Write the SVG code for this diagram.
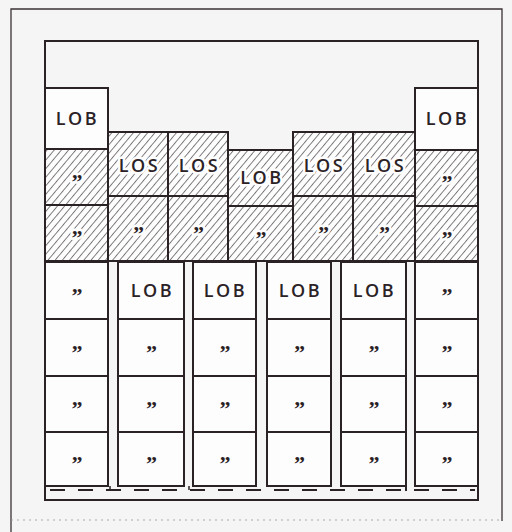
<svg xmlns="http://www.w3.org/2000/svg" width="512" height="532" viewBox="0 0 512 532">
  <defs>
    <pattern id="hatch" patternUnits="userSpaceOnUse" width="5.5" height="10" patternTransform="rotate(40)">
      <rect width="5.5" height="10" fill="#fdfdfd"/>
      <line x1="0.5" y1="0" x2="0.5" y2="10" stroke="#5a5458" stroke-width="0.8"/>
    </pattern>
    <style>
      .cell { stroke: #2b2226; stroke-width: 2; fill: #fdfdfd; }
      .hcell { stroke: #2b2226; stroke-width: 2; fill: url(#hatch); }
      .lbl { font-family: "Open Sans", "Liberation Sans", sans-serif; font-weight: 600; font-size: 18px; letter-spacing: 2.5px; fill: #2b2226; text-anchor: middle; }
      .dit { font-family: "Liberation Serif", "DejaVu Serif", serif; font-weight: 700; font-size: 22px; fill: #2b2226; text-anchor: middle; }
      .halo { stroke: #fdfdfd; stroke-width: 5; stroke-linejoin: round; paint-order: stroke; }
      .frame { stroke: #2b2226; stroke-width: 2; fill: none; }
      .outer { stroke: #3a3236; stroke-width: 1.3; fill: none; }
    </style>
  </defs>
  <rect width="512" height="532" fill="#f5f5f5"/>

  <g id="outer-frame">
    <polyline class="outer" points="11,532 11,9 502,9 502,521"/>
    <line x1="11" y1="520" x2="502" y2="520" stroke="#9a9496" stroke-width="0.8" stroke-dasharray="2 4"/>
  </g>

  <g id="inner-frame">
    <rect x="45" y="41" width="433" height="459" fill="#f8f8f8" class="frame"/>
  </g>

  <!-- top section -->
  <g id="colA">
    <g id="A1"><rect class="cell" x="45" y="88" width="63" height="61"/><text class="lbl" x="77.5" y="124.5">LOB</text></g>
    <g id="A2"><rect class="hcell" x="45" y="149" width="63" height="56"/><text class="dit halo" x="77" y="189">”</text></g>
    <g id="A3"><rect class="hcell" x="45" y="205" width="63" height="56"/><text class="dit halo" x="77" y="245">”</text></g>
  </g>
  <g id="colB">
    <g id="B1"><rect class="hcell" x="108" y="132" width="60" height="64"/><text class="lbl halo" x="139.5" y="171.5">LOS</text></g>
    <g id="B2"><rect class="hcell" x="108" y="196" width="60" height="65"/><text class="dit halo" x="138.5" y="240.5">”</text></g>
  </g>
  <g id="colC">
    <g id="C1"><rect class="hcell" x="168" y="132" width="60" height="64"/><text class="lbl halo" x="199.5" y="171.5">LOS</text></g>
    <g id="C2"><rect class="hcell" x="168" y="196" width="60" height="65"/><text class="dit halo" x="198.5" y="240.5">”</text></g>
  </g>
  <g id="colD">
    <g id="D1"><rect class="hcell" x="228" y="150" width="65" height="56"/><text class="lbl halo" x="262" y="183.5">LOB</text></g>
    <g id="D2"><rect class="hcell" x="228" y="206" width="65" height="55"/><text class="dit halo" x="261" y="245.5">”</text></g>
  </g>
  <g id="colE">
    <g id="E1"><rect class="hcell" x="293" y="132" width="60" height="64"/><text class="lbl halo" x="324.5" y="171.5">LOS</text></g>
    <g id="E2"><rect class="hcell" x="293" y="196" width="60" height="65"/><text class="dit halo" x="323.5" y="240.5">”</text></g>
  </g>
  <g id="colF">
    <g id="F1"><rect class="hcell" x="353" y="132" width="62" height="64"/><text class="lbl halo" x="385.5" y="171.5">LOS</text></g>
    <g id="F2"><rect class="hcell" x="353" y="196" width="62" height="65"/><text class="dit halo" x="384.5" y="240.5">”</text></g>
  </g>
  <g id="colG">
    <g id="G1"><rect class="cell" x="415" y="88" width="63" height="62"/><text class="lbl" x="447.5" y="124.5">LOB</text></g>
    <g id="G2"><rect class="hcell" x="415" y="150" width="63" height="56"/><text class="dit halo" x="447" y="190">”</text></g>
    <g id="G3"><rect class="hcell" x="415" y="206" width="63" height="55"/><text class="dit halo" x="447" y="245.5">”</text></g>
  </g>

  <!-- lower section -->
  <g id="col1">
    <rect class="cell" x="45" y="262" width="63" height="224"/>
    <line class="frame" x1="45" y1="319" x2="108" y2="319"/><line class="frame" x1="45" y1="376" x2="108" y2="376"/><line class="frame" x1="45" y1="432" x2="108" y2="432"/>
    <text class="dit" x="77" y="302.5">”</text><text class="dit" x="77" y="359.5">”</text><text class="dit" x="77" y="416">”</text><text class="dit" x="77" y="471">”</text>
  </g>
  <g id="col2">
    <rect class="cell" x="118" y="262" width="66" height="224"/>
    <line class="frame" x1="118" y1="319" x2="184" y2="319"/><line class="frame" x1="118" y1="376" x2="184" y2="376"/><line class="frame" x1="118" y1="432" x2="184" y2="432"/>
    <text class="lbl" x="152.5" y="297">LOB</text><text class="dit" x="151.5" y="359.5">”</text><text class="dit" x="151.5" y="416">”</text><text class="dit" x="151.5" y="471">”</text>
  </g>
  <g id="col3">
    <rect class="cell" x="193" y="262" width="63" height="224"/>
    <line class="frame" x1="193" y1="319" x2="256" y2="319"/><line class="frame" x1="193" y1="376" x2="256" y2="376"/><line class="frame" x1="193" y1="432" x2="256" y2="432"/>
    <text class="lbl" x="225.5" y="297">LOB</text><text class="dit" x="225" y="359.5">”</text><text class="dit" x="225" y="416">”</text><text class="dit" x="225" y="471">”</text>
  </g>
  <g id="col4">
    <rect class="cell" x="267" y="262" width="64" height="224"/>
    <line class="frame" x1="267" y1="319" x2="331" y2="319"/><line class="frame" x1="267" y1="376" x2="331" y2="376"/><line class="frame" x1="267" y1="432" x2="331" y2="432"/>
    <text class="lbl" x="300.5" y="297">LOB</text><text class="dit" x="299.5" y="359.5">”</text><text class="dit" x="299.5" y="416">”</text><text class="dit" x="299.5" y="471">”</text>
  </g>
  <g id="col5">
    <rect class="cell" x="341" y="262" width="65" height="224"/>
    <line class="frame" x1="341" y1="319" x2="406" y2="319"/><line class="frame" x1="341" y1="376" x2="406" y2="376"/><line class="frame" x1="341" y1="432" x2="406" y2="432"/>
    <text class="lbl" x="374.5" y="297">LOB</text><text class="dit" x="374" y="359.5">”</text><text class="dit" x="374" y="416">”</text><text class="dit" x="374" y="471">”</text>
  </g>
  <g id="col6">
    <rect class="cell" x="415" y="262" width="63" height="224"/>
    <line class="frame" x1="415" y1="319" x2="478" y2="319"/><line class="frame" x1="415" y1="376" x2="478" y2="376"/><line class="frame" x1="415" y1="432" x2="478" y2="432"/>
    <text class="dit" x="447" y="302.5">”</text><text class="dit" x="447" y="359.5">”</text><text class="dit" x="447" y="416">”</text><text class="dit" x="447" y="471">”</text>
  </g>

  <g id="base">
    <line x1="50" y1="490" x2="475" y2="490" stroke="#2b2226" stroke-width="2" stroke-dasharray="15 13"/>
    <line x1="110" y1="486" x2="110" y2="490" stroke="#2b2226" stroke-width="1.5"/>
    <line x1="189" y1="486" x2="189" y2="490" stroke="#2b2226" stroke-width="1.5"/>
    <line x1="406" y1="486" x2="406" y2="491" stroke="#2b2226" stroke-width="2"/>
  </g>
</svg>
